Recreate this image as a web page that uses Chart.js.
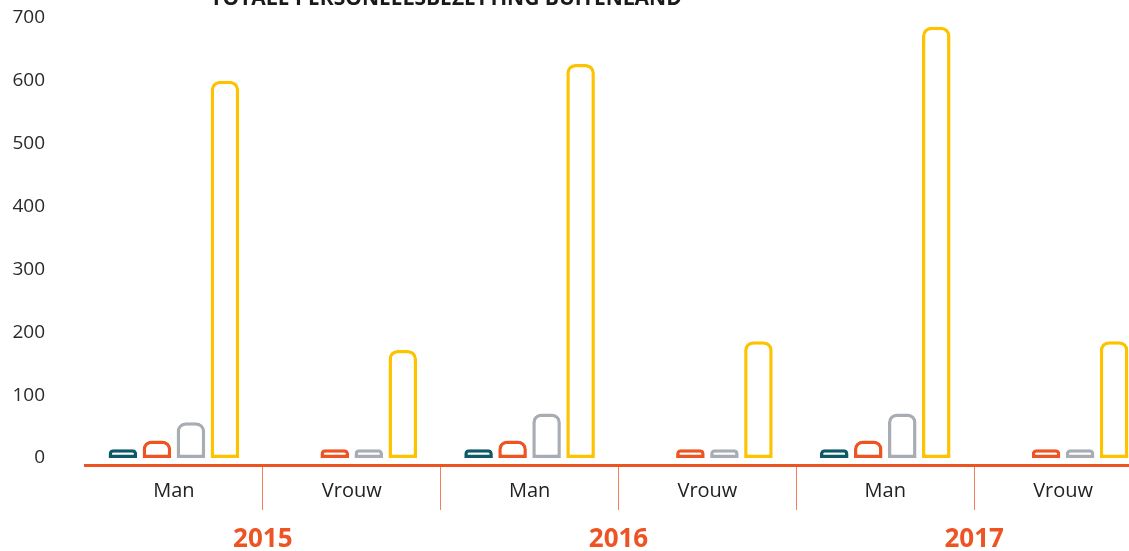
<!DOCTYPE html>
<html>
<head>
<meta charset="utf-8">
<script src="https://cdn.jsdelivr.net/npm/chart.js@4"></script>
<style>
  html, body { margin: 0; padding: 0; background: #fff; overflow: hidden; width: 1129px; height: 551px; }
  #wrap { position: absolute; left: 0; top: -22px; width: 1160px; height: 573px; }
</style>
</head>
<body>
<div id="wrap"><canvas id="grafiek"></canvas></div>
<script>
// data
var categorieen = ['Man', 'Vrouw', 'Man', 'Vrouw', 'Man', 'Vrouw']
var jaren = ['2015', '2016', '2017']
var reeksTeal = [14, null, 14, null, 14, null]
var reeksOranje = [28, 14, 28, 14, 28, 14]
var reeksGrijs = [57, 14, 71, 14, 71, 14]
var reeksGeel = [600, 172, 627, 186, 686, 186]
var yTicks = [0, 100, 200, 300, 400, 500, 600, 700]
var titel = 'TOTALE PERSONEELSBEZETTING BUITENLAND'

var oranje = '#ee5323'
var font = '"Open Sans", "Noto Sans", sans-serif'

function bar(data, kleur) {
    return {
        data: data,
        backgroundColor: '#ffffff',
        borderColor: kleur,
        borderWidth: 3.5,
        borderSkipped: false,
        borderRadius: { topLeft: 9, topRight: 9, bottomLeft: 0, bottomRight: 0 },
        barPercentage: 0.84,
        categoryPercentage: 0.765
    }
}

// titel staat half buiten beeld
var titelPlugin = {
    id: 'titel',
    afterDraw: function (chart) {
        var c = chart.ctx
        c.save()
        c.font = 'bold 21px ' + font
        c.fillStyle = '#1a1a1a'
        c.textAlign = 'center'
        c.textBaseline = 'alphabetic'
        c.fillText(titel, 446, 27)
        c.restore()
    }
}

var ctx = document.getElementById('grafiek')

var myChart = new Chart(ctx, {
    type: 'bar',
    data: {
        labels: categorieen,
        datasets: [
            bar(reeksTeal, '#0d5966'),
            bar(reeksOranje, oranje),
            bar(reeksGrijs, '#a7adb3'),
            bar(reeksGeel, '#fdc300')
        ]
    },
    plugins: [titelPlugin],
    options: {
        responsive: true,
        maintainAspectRatio: false,
        animation: false,
        layout: { padding: { top: 40, right: 8, bottom: 0, left: 0 } },
        plugins: {
            legend: { display: false },
            tooltip: { enabled: false },
            title: { display: false }
        },
        scales: {
            y: {
                min: -11,
                max: 700,
                afterBuildTicks: function (scale) {
                    scale.ticks = yTicks.map(function (v) { return { value: v } })
                },
                afterFit: function (scale) { scale.width = 85 },
                grid: { display: false, drawTicks: true, tickLength: 39 },
                border: { display: false },
                ticks: {
                    padding: 1,
                    color: '#2a2a2a',
                    font: { family: font, size: 19 }
                }
            },
            x: {
                offset: true,
                afterFit: function (scale) { scale.height = 45 },
                grid: {
                    drawOnChartArea: false,
                    drawTicks: true,
                    tickLength: 45,
                    lineWidth: 1,
                    color: function (c) { return c.index === 0 ? 'rgba(0,0,0,0)' : 'rgba(238,83,35,0.75)' }
                },
                border: { display: true, color: oranje, width: 3 },
                ticks: {
                    padding: -31,
                    color: '#222',
                    font: { family: font, size: 20 }
                }
            },
            x2: {
                type: 'category',
                labels: jaren,
                position: 'bottom',
                offset: true,
                afterFit: function (scale) { scale.height = 41 },
                grid: { display: false, drawTicks: false },
                border: { display: false },
                ticks: {
                    padding: 14,
                    color: oranje,
                    font: { family: font, size: 26, weight: 'bold' }
                }
            }
        }
    }
})
</script>
</body>
</html>
